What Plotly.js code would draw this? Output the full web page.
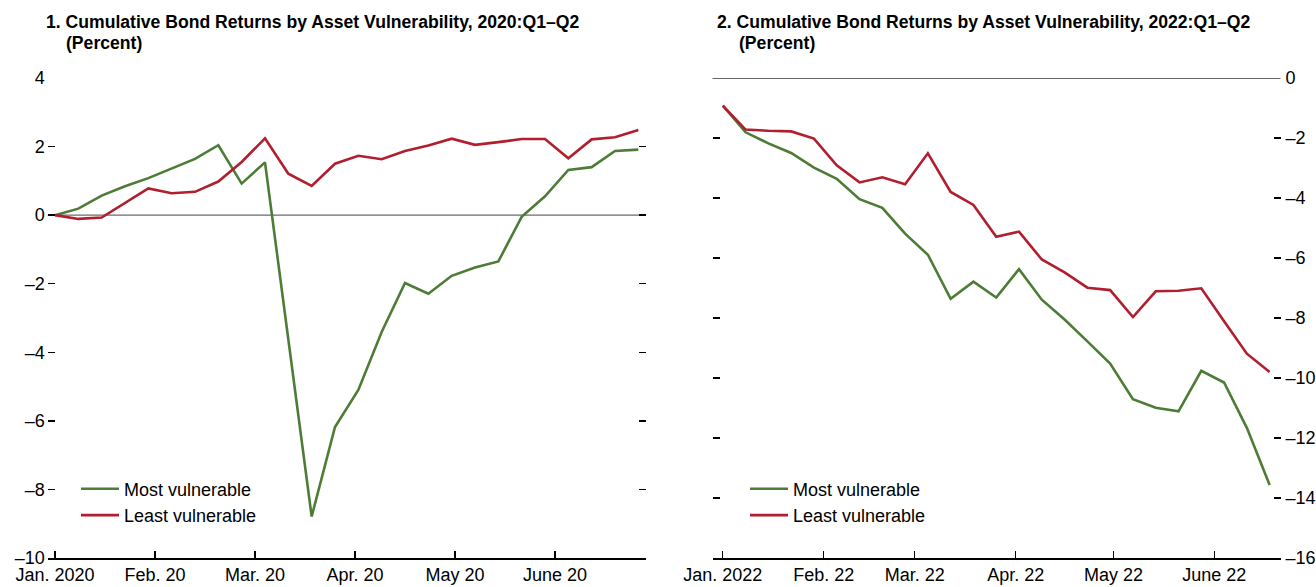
<!DOCTYPE html>
<html>
<head>
<meta charset="utf-8">
<script src="https://cdn.plot.ly/plotly-3.0.1.min.js"></script>
<style>
  html, body { margin: 0; padding: 0; background: #fff; }
  #chart { width: 1316px; height: 587px; }
</style>
</head>
<body>
<div id="chart"></div>
<script>
// ---- Data ----
const leftDates = ['2020-01-01','2020-01-08','2020-01-15','2020-01-22','2020-01-29',
  '2020-02-05','2020-02-12','2020-02-19','2020-02-26','2020-03-04','2020-03-11',
  '2020-03-18','2020-03-25','2020-04-01','2020-04-08','2020-04-15','2020-04-22',
  '2020-04-29','2020-05-06','2020-05-13','2020-05-20','2020-05-27','2020-06-03',
  '2020-06-10','2020-06-17','2020-06-24'];
const leftMost = [0, 0.19, 0.57, 0.84, 1.08, 1.37, 1.64, 2.04, 0.92, 1.54, -3.6, -8.79,
  -6.18, -5.10, -3.41, -1.98, -2.29, -1.77, -1.53, -1.35, -0.05, 0.55, 1.32, 1.40, 1.87, 1.91];
const leftLeast = [0, -0.11, -0.07, 0.36, 0.78, 0.64, 0.68, 0.98, 1.55, 2.24, 1.21, 0.85,
  1.50, 1.73, 1.63, 1.87, 2.03, 2.23, 2.05, 2.13, 2.22, 2.22, 1.66, 2.21, 2.27, 2.48];

const rightDates = ['2022-01-01','2022-01-08','2022-01-15','2022-01-22','2022-01-29',
  '2022-02-05','2022-02-12','2022-02-19','2022-02-26','2022-03-05','2022-03-12',
  '2022-03-19','2022-03-26','2022-04-02','2022-04-09','2022-04-16','2022-04-23',
  '2022-04-30','2022-05-07','2022-05-14','2022-05-21','2022-05-28','2022-06-04',
  '2022-06-11','2022-06-18'];
const rightMost = [-0.92, -1.81, -2.18, -2.50, -2.99, -3.36, -4.04, -4.33, -5.19, -5.89,
  -7.36, -6.79, -7.32, -6.37, -7.39, -8.05, -8.78, -9.52, -10.71, -10.99, -11.11, -9.76,
  -10.15, -11.66, -13.57];
const rightLeast = [-0.92, -1.72, -1.76, -1.78, -2.02, -2.91, -3.48, -3.31, -3.54, -2.51,
  -3.80, -4.23, -5.29, -5.12, -6.05, -6.48, -6.99, -7.07, -7.97, -7.11, -7.09, -7.01,
  -8.11, -9.19, -9.80];

const seriesNames = ['Most vulnerable', 'Least vulnerable'];

const leftTickVals = ['2020-01-01','2020-01-31','2020-03-01','2020-03-31','2020-04-30','2020-05-30'];
const leftTickText = ['Jan. 2020','Feb. 20','Mar. 20','Apr. 20','May 20','June 20'];
const rightTickVals = ['2022-01-01','2022-02-01','2022-03-01','2022-04-01','2022-05-01','2022-06-01'];
const rightTickText = ['Jan. 2022','Feb. 22','Mar. 22','Apr. 22','May 22','June 22'];

const leftYVals = [-10, -8, -6, -4, -2, 0, 2, 4];
const leftYText = ['–10', '–8', '–6', '–4', '–2', '0', '2', '4'];
const rightYVals = [-16, -14, -12, -10, -8, -6, -4, -2, 0];
const rightYText = ['–16', '–14', '–12', '–10', '–8', '–6', '–4', '–2', '0'];

const titles = [
  '1. Cumulative Bond Returns by Asset Vulnerability, 2020:Q1–Q2',
  '2. Cumulative Bond Returns by Asset Vulnerability, 2022:Q1–Q2'
];
const subtitle = '(Percent)';

// ---- Styling ----
const W = 1316, H = 587;
const GREEN = '#4d7c36';
const RED = '#b11f2f';
const FONT = 'Liberation Sans, Arial, sans-serif';
const TFONT = 'Liberation Sans Narrow, Arial Narrow, Liberation Sans, sans-serif';
const px = v => v / W;
const py = v => 1 - v / H;

const traces = [
  {x: leftDates, y: leftMost, name: seriesNames[0], xaxis: 'x', yaxis: 'y', legend: 'legend',
   mode: 'lines', line: {color: GREEN, width: 2.6}},
  {x: leftDates, y: leftLeast, name: seriesNames[1], xaxis: 'x', yaxis: 'y', legend: 'legend',
   mode: 'lines', line: {color: RED, width: 2.6}},
  {x: rightDates, y: rightMost, name: seriesNames[0], xaxis: 'x2', yaxis: 'y2', legend: 'legend2',
   mode: 'lines', line: {color: GREEN, width: 2.6}},
  {x: rightDates, y: rightLeast, name: seriesNames[1], xaxis: 'x2', yaxis: 'y2', legend: 'legend2',
   mode: 'lines', line: {color: RED, width: 2.6}}
];

const xCommon = {
  type: 'date', showgrid: false, zeroline: false, showline: true, linecolor: '#000', linewidth: 1.5,
  ticks: 'inside', ticklen: 7, tickwidth: 1.3, tickcolor: '#000', tickmode: 'array',
  tickfont: {family: FONT, size: 18, color: '#000'}
};
const yCommon = {
  showgrid: false, zeroline: false, showline: false, ticks: 'inside', ticklen: 7, tickwidth: 1.3,
  tickcolor: '#000', mirror: 'ticks', tickmode: 'array',
  tickfont: {family: FONT, size: 18, color: '#000'}
};
const yDomain = [py(558), py(78)];

const legendCommon = {xanchor: 'left', yanchor: 'top', bgcolor: 'rgba(0,0,0,0)', itemwidth: 38,
  borderwidth: 0, font: {family: FONT, size: 18, color: '#000'}, tracegroupgap: 0};

const layout = {
  width: W, height: H,
  margin: {l: 0, r: 0, t: 0, b: 0},
  paper_bgcolor: '#fff', plot_bgcolor: 'rgba(0,0,0,0)',
  showlegend: true,
  xaxis: Object.assign({}, xCommon, {domain: [px(47.7), px(645.7)], anchor: 'y',
    range: ['2019-12-29 19:30', '2020-06-26 05:00'], tickvals: leftTickVals, ticktext: leftTickText}),
  yaxis: Object.assign({}, yCommon, {domain: yDomain, anchor: 'x', range: [-10, 4],
    tickvals: leftYVals, ticktext: leftYText, ticklabelstandoff: 2}),
  xaxis2: Object.assign({}, xCommon, {domain: [px(712.5), px(1280.5)], anchor: 'y2',
    range: ['2021-12-28 20:00', '2022-06-21 08:00'], tickvals: rightTickVals, ticktext: rightTickText}),
  yaxis2: Object.assign({}, yCommon, {domain: yDomain, anchor: 'x2', side: 'right', range: [-16, 0],
    tickvals: rightYVals, ticktext: rightYText, ticklabelstandoff: 4}),
  legend: Object.assign({}, legendCommon, {x: px(76), y: py(470.5)}),
  legend2: Object.assign({}, legendCommon, {x: px(745), y: py(470.5)}),
  shapes: [
    {type: 'line', xref: 'x domain', yref: 'y', x0: 0, x1: 1, y0: 0, y1: 0,
     line: {color: '#6b6b6b', width: 1.3}, layer: 'below'},
    {type: 'line', xref: 'x2 domain', yref: 'y2', x0: 0, x1: 1, y0: 0, y1: 0,
     line: {color: '#333333', width: 1.6}, layer: 'below'}
  ],
  annotations: [
    {text: '<b>' + titles[0] + '</b>', xref: 'paper', yref: 'paper', x: px(44), y: py(22.5),
     xanchor: 'left', yanchor: 'middle', showarrow: false, font: {family: TFONT, size: 17.6, color: '#000'}},
    {text: '<b>' + subtitle + '</b>', xref: 'paper', yref: 'paper', x: px(64), y: py(43),
     xanchor: 'left', yanchor: 'middle', showarrow: false, font: {family: TFONT, size: 17.6, color: '#000'}},
    {text: '<b>' + titles[1] + '</b>', xref: 'paper', yref: 'paper', x: px(715), y: py(22.5),
     xanchor: 'left', yanchor: 'middle', showarrow: false, font: {family: TFONT, size: 17.6, color: '#000'}},
    {text: '<b>' + subtitle + '</b>', xref: 'paper', yref: 'paper', x: px(737), y: py(43),
     xanchor: 'left', yanchor: 'middle', showarrow: false, font: {family: TFONT, size: 17.6, color: '#000'}}
  ]
};

Plotly.newPlot('chart', traces, layout, {staticPlot: true, displayModeBar: false});
</script>
</body>
</html>
